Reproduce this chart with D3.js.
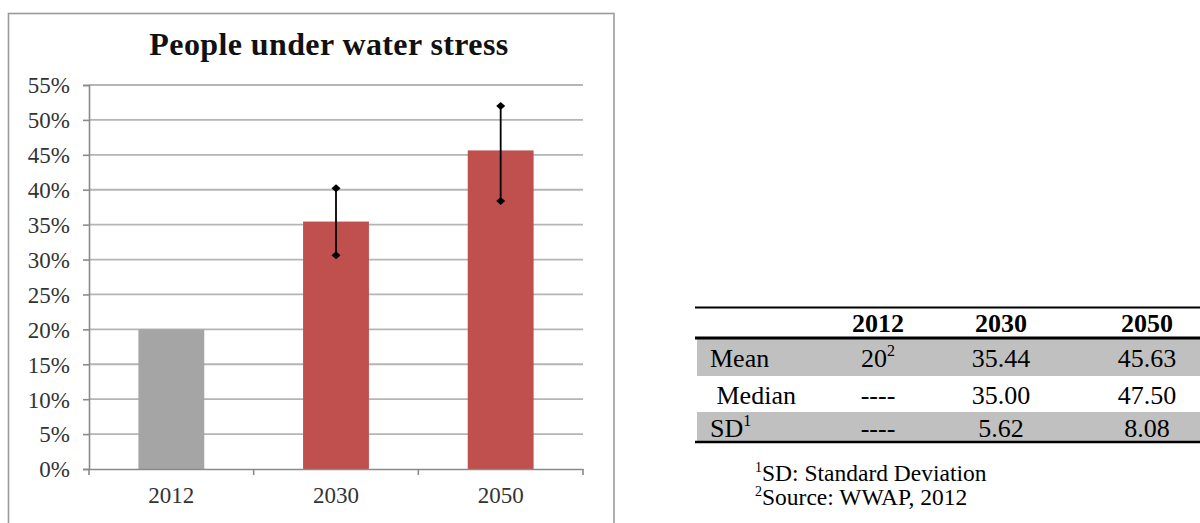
<!DOCTYPE html>
<html>
<head>
<meta charset="utf-8">
<script src="https://cdn.jsdelivr.net/npm/d3@7/dist/d3.min.js"></script>
<style>
  html, body { margin: 0; padding: 0; background: #fff; }
  svg { display: block; }
  text { font-family: "Liberation Serif", "DejaVu Serif", serif; }
</style>
</head>
<body>
<svg id="chart" width="1200" height="523"></svg>
<script>
// ---- data ----
const categories = ["2012", "2030", "2050"];
const meanValues = [0.20, 0.3544, 0.4563];
const errLow = [null, 0.306, 0.384];
const errHigh = [null, 0.402, 0.520];
const barColors = ["#A5A5A5", "#C0504D", "#C0504D"];
const yTicks = [0, 0.05, 0.10, 0.15, 0.20, 0.25, 0.30, 0.35, 0.40, 0.45, 0.50, 0.55];
const title = "People under water stress";

const tableHeader = ["", "2012", "2030", "2050"];
const rowLabels = ["Mean", " Median", "SD"];
const rowLabelSup = ["", "", "1"];
const rowValues = [
  ["20", "35.44", "45.63"],
  ["----", "35.00", "47.50"],
  ["----", "5.62", "8.08"]
];
const rowValueSup = [["2", "", ""], ["", "", ""], ["", "", ""]];
const rowShaded = [true, false, true];
const footnotes = [
  { sup: "1", text: "SD: Standard Deviation" },
  { sup: "2", text: "Source: WWAP, 2012" }
];

// ---- chart ----
const svg = d3.select("#chart");

// chart frame
svg.append("rect")
  .attr("x", 8.5).attr("y", 13.5)
  .attr("width", 605.5).attr("height", 520)
  .attr("fill", "#fff").attr("stroke", "#9a9a9a").attr("stroke-width", 1.6);

svg.append("text")
  .attr("x", 329).attr("y", 55)
  .attr("text-anchor", "middle")
  .style("font-weight", "bold")
  .style("font-size", "32px")
  .style("letter-spacing", "0.4px")
  .attr("fill", "#111")
  .text(title);

const plotLeft = 89, plotRight = 583, plotTop = 85, plotBottom = 469;

const x = d3.scaleBand().domain(categories).range([plotLeft, plotRight])
  .paddingInner(0.6).paddingOuter(0.3);
const y = d3.scaleLinear().domain([0, 0.55]).range([plotBottom, plotTop]);

// gridlines
svg.append("g").selectAll("line").data(yTicks.filter(d => d > 0)).join("line")
  .attr("x1", plotLeft).attr("x2", plotRight)
  .attr("y1", d => y(d)).attr("y2", d => y(d))
  .attr("stroke", "#b5b5b5").attr("stroke-width", 1.8);

// bars
svg.append("g").selectAll("rect").data(categories).join("rect")
  .attr("x", d => x(d))
  .attr("width", x.bandwidth())
  .attr("y", (d, i) => y(meanValues[i]))
  .attr("height", (d, i) => y(0) - y(meanValues[i]))
  .attr("fill", (d, i) => barColors[i]);

// y axis
const yAxis = d3.axisLeft(y).tickValues(yTicks).tickSize(6).tickPadding(13)
  .tickFormat(d => Math.round(d * 100) + "%");
const gy = svg.append("g").attr("transform", `translate(${plotLeft},0)`).call(yAxis);
gy.select(".domain").attr("stroke", "#8a8a8a").attr("stroke-width", 1.6);
gy.selectAll(".tick line").attr("stroke", "#8a8a8a").attr("stroke-width", 1.6);
gy.selectAll(".tick text")
  .style("font-size", "23px").attr("fill", "#333").attr("dy", "0.34em");

// x axis
const xAxis = d3.axisBottom(x).tickSize(0).tickPadding(18);
const gx = svg.append("g").attr("transform", `translate(0,${plotBottom})`).call(xAxis);
gx.select(".domain").attr("stroke", "#8a8a8a").attr("stroke-width", 1.6);
gx.selectAll(".tick text")
  .style("font-size", "23px").attr("fill", "#333");
// category boundary ticks
const bounds = [plotLeft].concat(categories.map(c => x(c) + x.bandwidth() + x.step() * x.paddingInner() / 2));
bounds[bounds.length - 1] = plotRight;
gx.selectAll(".bound").data(bounds).join("line")
  .attr("class", "bound")
  .attr("x1", d => d).attr("x2", d => d)
  .attr("y1", 0).attr("y2", 6)
  .attr("stroke", "#8a8a8a").attr("stroke-width", 1.6);

// error bars
const errG = svg.append("g");
categories.forEach((c, i) => {
  if (errLow[i] == null) return;
  const cx = x(c) + x.bandwidth() / 2;
  errG.append("line")
    .attr("x1", cx).attr("x2", cx)
    .attr("y1", y(errLow[i])).attr("y2", y(errHigh[i]))
    .attr("stroke", "#000").attr("stroke-width", 1.8);
  [errLow[i], errHigh[i]].forEach(v => {
    const cy = y(v);
    errG.append("path")
      .attr("d", `M${cx - 4.5},${cy} L${cx},${cy - 4} L${cx + 4.5},${cy} L${cx},${cy + 4} Z`)
      .attr("fill", "#000");
  });
});

// ---- table ----
const tLeft = 695, tRight = 1200;
const colCenters = [null, 878, 1001, 1147];
const rowTops = [338, 376, 412];
const rowBottoms = [376, 412, 442];
const tg = svg.append("g");

rowLabels.forEach((r, i) => {
  if (rowShaded[i]) {
    tg.append("rect").attr("x", 697).attr("y", rowTops[i])
      .attr("width", tRight - 697).attr("height", rowBottoms[i] - rowTops[i])
      .attr("fill", "#c0c0c0");
  }
});

tg.append("line").attr("x1", tLeft).attr("x2", tRight).attr("y1", 307.5).attr("y2", 307.5)
  .attr("stroke", "#000").attr("stroke-width", 2);
tg.append("line").attr("x1", tLeft).attr("x2", tRight).attr("y1", 338).attr("y2", 338)
  .attr("stroke", "#000").attr("stroke-width", 3);
tg.append("line").attr("x1", tLeft).attr("x2", tRight).attr("y1", 442).attr("y2", 442)
  .attr("stroke", "#000").attr("stroke-width", 2.5);

tableHeader.forEach((h, j) => {
  if (!h) return;
  tg.append("text").attr("x", colCenters[j]).attr("y", 332)
    .attr("text-anchor", "middle").style("font-weight", "bold")
    .style("font-size", "26px").attr("fill", "#000").text(h);
});

const rowBaselines = [367, 404, 437];
rowLabels.forEach((r, i) => {
  const t = tg.append("text").attr("x", 710).attr("y", rowBaselines[i])
    .style("font-size", "26px").attr("fill", "#000")
    .attr("xml:space", "preserve").style("white-space", "pre");
  t.append("tspan").text(r);
  if (rowLabelSup[i]) t.append("tspan").style("font-size", "16px").attr("dy", -11).text(rowLabelSup[i]);
  rowValues[i].forEach((v, j) => {
    const tv = tg.append("text").attr("x", colCenters[j + 1]).attr("y", rowBaselines[i])
      .attr("text-anchor", "middle").style("font-size", "26px").attr("fill", "#000");
    tv.append("tspan").text(v);
    if (rowValueSup[i][j]) tv.append("tspan").style("font-size", "16px").attr("dy", -11).text(rowValueSup[i][j]);
  });
});

// footnotes
footnotes.forEach((f, i) => {
  const t = svg.append("text").attr("x", 755).attr("y", 481 + i * 24)
    .style("font-size", "23.5px").attr("fill", "#000");
  t.append("tspan").style("font-size", "14px").attr("dy", -9).text(f.sup);
  t.append("tspan").attr("dy", 9).text(f.text);
});
</script>
</body>
</html>
